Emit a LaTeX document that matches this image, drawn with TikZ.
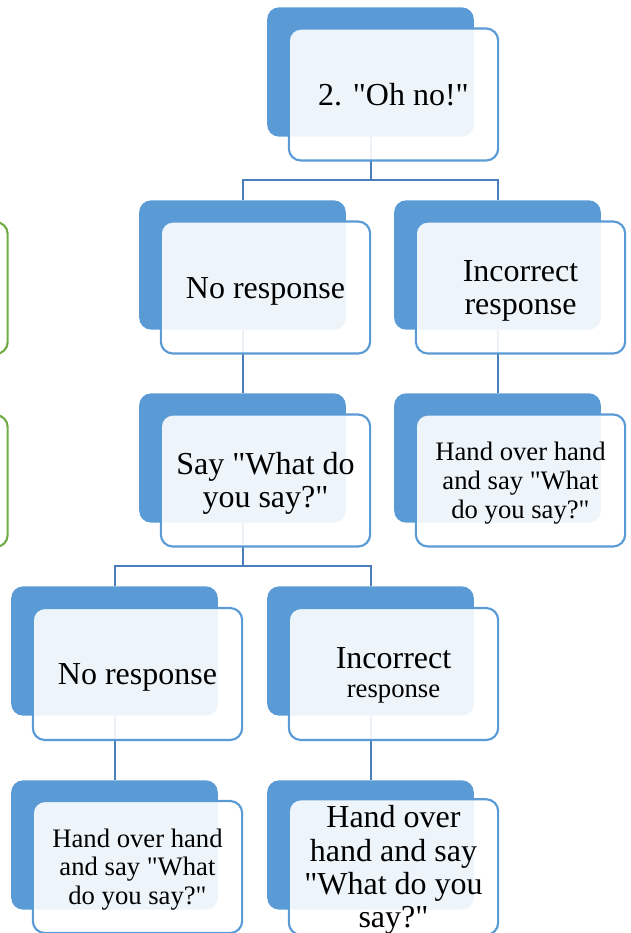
\documentclass[tikz,border=0pt]{standalone}
\usepackage{fontspec}
\setmainfont{Liberation Serif}[Ligatures=TeXOff]
\definecolor{boxblue}{HTML}{5B9BD5}
\definecolor{linkblue}{HTML}{4A7EBB}
\definecolor{boxgreen}{HTML}{70AD47}

\begin{document}
\begin{tikzpicture}[x=0.75pt, y=-0.75pt,
    backbox/.style={fill=boxblue, rounded corners=9pt, minimum width=155pt, minimum height=97pt, inner sep=0pt},
    frontbox/.style={draw=boxblue, line width=1.6pt, fill=white, fill opacity=0.9, text opacity=1,
        rounded corners=9pt, minimum width=157pt, minimum height=99pt, inner sep=0pt,
        text width=150pt, align=flush center, font=\fontsize{24}{25}\selectfont,
        execute at begin node={\rule{0pt}{0.89em}},
        execute at end node={\rule[-0.22em]{0pt}{0pt}}},
    greenbox/.style={frontbox, draw=boxgreen, fill opacity=1},
    smalltext/.style={font=\fontsize{20}{21.5}\selectfont},
    link/.style={draw=linkblue, line width=1.5pt}]
    \clip (0,0) rectangle (631,933);
    \draw
    (370.5,72)node(b1)[backbox]{}
    (242.5,265)node(b2)[backbox]{}
    (497.5,265)node(b3)[backbox]{}
    (242.5,458)node(b4)[backbox]{}
    (497.5,458)node(b5)[backbox]{}
    (114.5,651)node(b6)[backbox]{}
    (370.5,651)node(b7)[backbox]{}
    (114.5,845)node(b8)[backbox]{}
    (370.5,845)node(b9)[backbox]{};
    %
    \draw
    (-97,288)node(g1)[greenbox]{}
    (-97,481)node(g2)[greenbox]{};
    %
    \draw [link](b1.south)--++(0,43)-|(b2.north);
    \draw [link](b1.south)--++(0,43)-|(b3.north);
    \draw [link](b2.south)--(b4.north);
    \draw [link](b3.south)--(b5.north);
    \draw [link](b4.south)--++(0,43)-|(b6.north);
    \draw [link](b4.south)--++(0,43)-|(b7.north);
    \draw [link](b6.south)--(b8.north);
    \draw [link](b7.south)--(b9.north);
    %
    \draw
    (393.5,94.5)node(f1)[frontbox]{2. "Oh no!"}
    (265.5,287.5)node(f2)[frontbox]{No response}
    (520.5,287.5)node(f3)[frontbox]{Incorrect\\response}
    (265.5,480.5)node(f4)[frontbox]{Say "What do\\you say?"}
    (520.5,480.5)node(f5)[frontbox, smalltext]{Hand over hand\\and say "What\\do you say?"}
    (137.5,674)node(f6)[frontbox]{No response}
    (393.5,674)node(f7)[frontbox, smalltext]{{\fontsize{24}{25}\selectfont Incorrect}\\response}
    (137.5,867)node(f8)[frontbox, smalltext]{Hand over hand\\and say "What\\do you say?"}
    (393.5,867)node(f9)[frontbox]{Hand over\\hand and say\\"What do you\\say?"};
\end{tikzpicture}
\end{document}
